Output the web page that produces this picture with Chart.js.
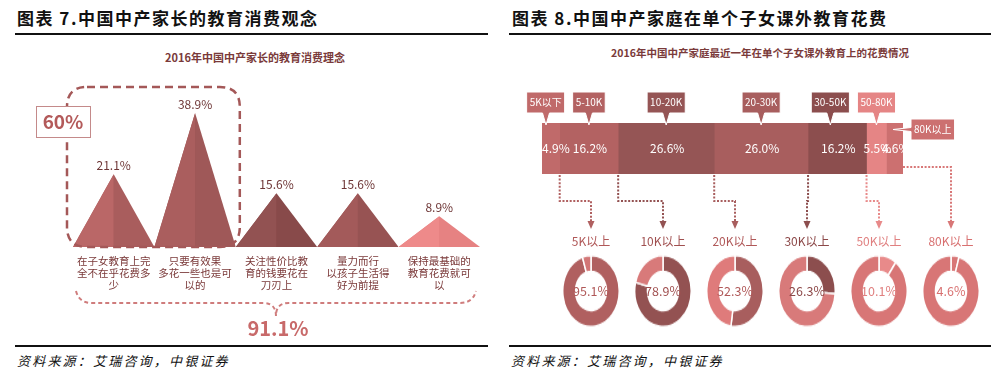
<!DOCTYPE html>
<html><head><meta charset="utf-8">
<script src="https://cdn.jsdelivr.net/npm/chart.js@4.4.1/dist/chart.umd.min.js"></script>
<style>
html,body{margin:0;padding:0;background:#fff;}
body{width:1001px;height:382px;position:relative;overflow:hidden;font-family:"Noto Sans CJK SC","Noto Sans",sans-serif;}
.abs{position:absolute;white-space:nowrap;}
.title{font-size:17px;font-weight:bold;letter-spacing:1.5px;color:#111;top:7px;line-height:22px;}
.rule{position:absolute;height:1.5px;background:#111;}
.sub{font-size:11px;font-weight:bold;color:#7a3a3a;transform:translateX(-50%);line-height:14px;}
.src{font-size:13px;font-style:italic;letter-spacing:2.2px;top:352px;line-height:18px;color:#111;}
.dlab{font-size:12px;transform:translate(-50%,-50%);line-height:14px;}
.dval{font-size:12.5px;transform:translate(-50%,-50%);line-height:14px;}
canvas{display:block;}
</style></head>
<body>
<div class="abs title" style="left:17px">图表 7.中国中产家长的教育消费观念</div>
<div class="abs title" style="left:512px">图表 8.中国中产家庭在单个子女课外教育花费</div>
<div class="rule" style="left:15px;width:473px;top:33px"></div>
<div class="rule" style="left:509px;width:482px;top:33px"></div>
<div class="abs sub" style="left:255px;top:50px">2016年中国中产家长的教育消费理念</div>
<div class="abs sub" style="left:760px;top:46px;font-size:10.5px">2016年中国中产家庭最近一年在单个子女课外教育上的花费情况</div>
<div class="rule" style="left:15px;width:473px;top:345px"></div>
<div class="rule" style="left:509px;width:482px;top:345px"></div>
<div class="abs src" style="left:17px">资料来源：艾瑞咨询，中银证券</div>
<div class="abs src" style="left:511px">资料来源：艾瑞咨询，中银证券</div>

<canvas id="tri" width="500" height="382" style="position:absolute;left:0;top:0"></canvas>
<canvas id="bar" width="501" height="382" style="position:absolute;left:500px;top:0"></canvas>
<div id="donuts"></div>

<script>
// ---------- data ----------
const conceptLabels = [
  ['在子女教育上完','全不在乎花费多','少'],
  ['只要有效果','多花一些也是可','以的'],
  ['关注性价比教','育的钱要花在','刀刃上'],
  ['量力而行','以孩子生活得','好为前提'],
  ['保持最基础的','教育花费就可','以']
];
const conceptValues = [21.1, 38.9, 15.6, 15.6, 8.9];
const groupShareText = '60%';
const totalShareText = '91.1%';

const spendCats = ['5K以下','5-10K','10-20K','20-30K','30-50K','50-80K','80K以上'];
const spendValues = [4.9, 16.2, 26.6, 26.0, 16.2, 5.5, 4.6];

const donutLabels = ['5K以上','10K以上','20K以上','30K以上','50K以上','80K以上'];
const donutValues = [95.1, 78.9, 52.3, 26.3, 10.1, 4.6];

// ---------- styles ----------
const FONT = '"Noto Sans CJK SC","Noto Sans",sans-serif';
Chart.defaults.font.family = FONT;
const triLight = ['#ba6767','#aa5e5e','#925252','#a35a5a','#ee8a8a'];
const triDark  = ['#a95d5d','#9f5858','#884a4a','#975353','#e68282'];
const barColors = ['#c06a6a','#b36262','#955555','#a85e5e','#8c4e4e','#e58585','#cc7070'];
const donutMain = ['#b06060','#935252','#a85e5e','#8c4e4e','#e88a8a','#d87777'];
const donutRest = ['#d27676','#d87a7a','#df7b7b','#d87a7a','#d87676','#d87676'];
const donutText = ['#b05858','#a05050','#b05858','#8c4848','#e08080','#d87070'];
const donutX = donutValues.map((v,i)=>591 + 72*i);
const donutY = 291;

// ---------- left: triangle chart ----------
const triDatasets = [];
conceptValues.forEach((v,i)=>{
  triDatasets.push({data:[{x:i,y:0},{x:i+0.5,y:v},{x:i+1,y:0}],fill:'origin',backgroundColor:triDark[i],borderWidth:0,pointRadius:0,tension:0,order:2});
  triDatasets.push({data:[{x:i,y:0},{x:i+0.5,y:v}],fill:'origin',backgroundColor:triLight[i],borderWidth:0,pointRadius:0,tension:0,order:1});
});

function rrect(ctx,x,y,w,h,r){
  ctx.beginPath();
  ctx.moveTo(x+r,y);ctx.lineTo(x+w-r,y);ctx.quadraticCurveTo(x+w,y,x+w,y+r);
  ctx.lineTo(x+w,y+h-r);ctx.quadraticCurveTo(x+w,y+h,x+w-r,y+h);
  ctx.lineTo(x+r,y+h);ctx.quadraticCurveTo(x,y+h,x,y+h-r);
  ctx.lineTo(x,y+r);ctx.quadraticCurveTo(x,y,x+r,y);ctx.closePath();
}

const triDecor = {
  id:'triDecor',
  afterDraw(chart){
    const ctx = chart.ctx, xs = chart.scales.x, ys = chart.scales.y;
    ctx.save();
    ctx.font = '12px '+FONT; ctx.fillStyle = '#6e3636'; ctx.textAlign='center'; ctx.textBaseline='middle';
    conceptValues.forEach((v,i)=>{
      ctx.fillText(v.toFixed(1)+'%', xs.getPixelForValue(i+0.5), ys.getPixelForValue(v)-9);
    });
    const l = xs.getPixelForValue(0)-6, r = xs.getPixelForValue(2)+4;
    const t = ys.getPixelForValue(ys.max)-5, b = ys.getPixelForValue(0);
    ctx.setLineDash([8,5]); ctx.lineWidth=2.5; ctx.strokeStyle='#a45858';
    rrect(ctx,l,t,r-l,b-t,20); ctx.stroke();
    ctx.setLineDash([]);
    ctx.fillStyle='#fff'; ctx.fillRect(36,106,54,31);
    ctx.lineWidth=1; ctx.strokeStyle='#c48a8a'; ctx.strokeRect(36.5,106.5,54,31);
    ctx.font='bold 19px '+FONT; ctx.fillStyle='#b35a5a'; ctx.fillText(groupShareText,63,122);
    const bl = xs.getPixelForValue(0)+3, br = xs.getPixelForValue(4)+ (xs.getPixelForValue(5)-xs.getPixelForValue(4))*0.95;
    const mid = (bl+br)/2;
    ctx.setLineDash([4,3]); ctx.lineWidth=2; ctx.strokeStyle='#cf7c7c';
    ctx.beginPath();
    ctx.moveTo(bl,291); ctx.quadraticCurveTo(bl+3,303,bl+16,303);
    ctx.lineTo(mid-13,303); ctx.quadraticCurveTo(mid,303,mid,316);
    ctx.quadraticCurveTo(mid,303,mid+13,303);
    ctx.lineTo(br-16,303); ctx.quadraticCurveTo(br-3,303,br,291);
    ctx.stroke(); ctx.setLineDash([]);
    ctx.font='bold 20px '+FONT; ctx.fillStyle='#c86a6a'; ctx.fillText(totalShareText,mid+2,328);
    ctx.restore();
  }
};

new Chart(document.getElementById('tri'),{
  type:'line',
  data:{datasets:triDatasets},
  options:{
    responsive:false, animation:false, events:[],
    layout:{padding:{left:73,right:20,top:92,bottom:90}},
    plugins:{legend:{display:false},tooltip:{enabled:false}},
    scales:{
      x:{type:'linear',min:0,max:5,
        grid:{display:false,drawTicks:false},border:{display:false},
        afterBuildTicks:s=>{s.ticks=conceptValues.map((v,i)=>({value:i+0.5}));},
        afterFit:s=>{s.height=45;},
        ticks:{autoSkip:false,maxRotation:0,padding:8,color:'#7a3838',
          font:{size:10.5,lineHeight:1.15},
          callback:(v,i)=>conceptLabels[i]}},
      y:{min:0,max:45,display:false}
    }
  },
  plugins:[triDecor]
});

// ---------- right: stacked bar ----------
const barDecor = {
  id:'barDecor',
  afterDatasetsDraw(chart){
    const ctx = chart.ctx, xs = chart.scales.x, ca = chart.chartArea;
    ctx.save();
    const segs = spendValues.map((v,i)=>chart.getDatasetMeta(i).data[0].getProps(['x','base','y','height'],true));
    ctx.save();
    ctx.beginPath(); ctx.rect(0,ca.top,ca.right,ca.bottom-ca.top); ctx.clip();
    ctx.font='12px '+FONT; ctx.fillStyle='#fff'; ctx.textAlign='center'; ctx.textBaseline='middle';
    segs.forEach((s,i)=>{
      let cx=(s.x+s.base)/2+1;
      const w=ctx.measureText(spendValues[i].toFixed(1)+'%').width;
      if(cx-w/2<ca.left) cx=ca.left+w/2;
      ctx.fillText(spendValues[i].toFixed(1)+'%',cx,s.y);
    });
    ctx.restore();
    ctx.font='10px '+FONT; ctx.textAlign='center'; ctx.textBaseline='middle';
    const n = segs.length-1;
    const boxes = segs.slice(0,n).map((s,i)=>({cx:(s.x+s.base)/2, w:ctx.measureText(spendCats[i]).width+6}));
    for(let i=n-2;i>=0;i--){
      const gap = (boxes[i+1].cx-boxes[i+1].w/2) - (boxes[i].cx+boxes[i].w/2);
      if(gap<8) boxes[i].cx -= (8-gap);
    }
    const h=21;
    boxes.forEach((b,i)=>{
      const cx=b.cx, w=b.w, top=92;
      const px=Math.min(Math.max(cx, ca.left+4), cx+w/2-4);
      ctx.fillStyle=barColors[i]; ctx.strokeStyle='#fff'; ctx.lineWidth=1;
      ctx.beginPath();
      ctx.moveTo(cx-w/2,top); ctx.lineTo(cx+w/2,top); ctx.lineTo(cx+w/2,top+h);
      ctx.lineTo(px+3.5,top+h); ctx.lineTo(px,top+h+12); ctx.lineTo(px-3.5,top+h);
      ctx.lineTo(cx-w/2,top+h); ctx.closePath(); ctx.fill(); ctx.stroke();
      ctx.fillStyle='#fff'; ctx.fillText(spendCats[i],cx,top+h/2);
    });
    {
      const s=segs[n], txt=spendCats[n], w=ctx.measureText(txt).width+6;
      const left=s.x+8, cy=s.y-19;
      ctx.fillStyle=barColors[n]; ctx.strokeStyle='#fff'; ctx.lineWidth=1;
      ctx.beginPath();
      ctx.moveTo(left,cy-h/2); ctx.lineTo(left+w,cy-h/2); ctx.lineTo(left+w,cy+h/2); ctx.lineTo(left,cy+h/2);
      ctx.lineTo(left,cy+2); ctx.lineTo(s.x-10,cy); ctx.lineTo(left,cy-2); ctx.closePath();
      ctx.fill(); ctx.stroke();
      ctx.fillStyle='#fff'; ctx.fillText(txt,left+w/2,cy);
    }
    let cum=0;
    const cums = spendValues.map(v=>(cum+=v));
    ctx.lineWidth=2; ctx.setLineDash([2,1.6]);
    donutValues.forEach((v,j)=>{
      const tx = donutX[j]-500;
      ctx.strokeStyle=donutMain[j];
      ctx.beginPath();
      if(j<donutValues.length-1){
        const sx = xs.getPixelForValue(cums[j]);
        ctx.moveTo(sx,ca.bottom+1); ctx.lineTo(sx,201); ctx.lineTo(tx,201); ctx.lineTo(tx,222);
      } else {
        const sx = xs.getPixelForValue(cums[cums.length-1]);
        ctx.moveTo(sx,ca.bottom-7); ctx.lineTo(tx,ca.bottom-7); ctx.lineTo(tx,222);
      }
      ctx.stroke();
    });
    ctx.setLineDash([]);
    donutValues.forEach((v,j)=>{
      const tx = donutX[j]-500;
      ctx.fillStyle=donutMain[j];
      ctx.beginPath(); ctx.moveTo(tx-3.5,221); ctx.lineTo(tx+3.5,221); ctx.lineTo(tx,229); ctx.closePath(); ctx.fill();
    });
    ctx.restore();
  }
};

new Chart(document.getElementById('bar'),{
  type:'bar',
  data:{labels:['花费'],datasets:spendValues.map((v,i)=>({label:spendCats[i],data:[v],backgroundColor:barColors[i],borderWidth:0,barPercentage:1,categoryPercentage:1}))},
  options:{
    indexAxis:'y', responsive:false, animation:false, events:[],
    layout:{padding:{left:42,right:98,top:123,bottom:208}},
    plugins:{legend:{display:false},tooltip:{enabled:false}},
    scales:{x:{stacked:true,min:0,max:100,display:false},y:{stacked:true,display:false}}
  },
  plugins:[barDecor]
});

// ---------- donuts ----------
const holder = document.getElementById('donuts');
donutValues.forEach((v,j)=>{
  const cx = donutX[j];
  const wrap = document.createElement('div');
  wrap.style.cssText = `position:absolute;left:${cx-29}px;top:${donutY-29}px;width:58px;height:58px;transform:scaleY(1.26);transform-origin:50% 50%;`;
  const cv = document.createElement('canvas'); cv.width=58; cv.height=58;
  wrap.appendChild(cv); holder.appendChild(wrap);
  new Chart(cv,{
    type:'doughnut',
    data:{labels:[donutLabels[j],'其他'],datasets:[{data:[v,100-v],backgroundColor:[donutMain[j],donutRest[j]],borderColor:'#fff',borderWidth:1.5}]},
    options:{responsive:false,animation:false,events:[],cutout:'55%',layout:{padding:0},plugins:{legend:{display:false},tooltip:{enabled:false}}}
  });
  const lab = document.createElement('div'); lab.className='abs dlab';
  lab.style.left=cx+'px'; lab.style.top='241px'; lab.style.color=donutText[j]; lab.textContent=donutLabels[j];
  holder.appendChild(lab);
  const val = document.createElement('div'); val.className='abs dval';
  val.style.left=cx+'px'; val.style.top=donutY+'px'; val.style.color=donutText[j]; val.textContent=v.toFixed(1)+'%';
  holder.appendChild(val);
});
</script>
</body></html>
